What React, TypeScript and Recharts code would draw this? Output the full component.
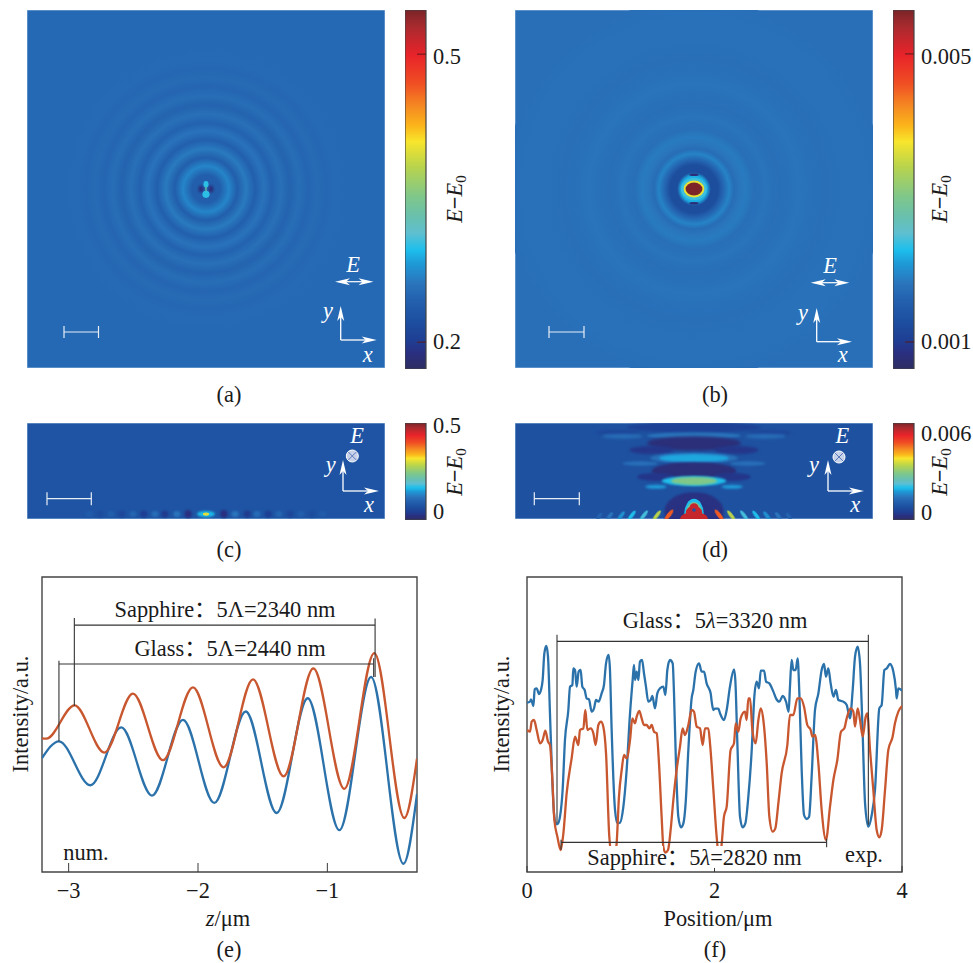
import React from 'react';
import {
  Bar, BarChart, ComposedChart, Line, ReferenceArea, ReferenceLine, Scatter, ScatterChart, XAxis, YAxis,
} from 'recharts';

const SERIF = '"Liberation Serif", "Noto Sans CJK SC", serif';

// Colormap of the colour bars: position 0..1 along the bar and its colour
const cmapPos = [0, 0.044, 0.081, 0.137, 0.193, 0.239, 0.295, 0.332, 0.378, 0.425, 0.48, 0.564, 0.634, 0.676, 0.731, 0.796, 0.875, 0.954, 1];
const cmapHex = ['#2e2e62', '#2a2f80', '#1e3f94', '#1d50a0', '#2361ae', '#2a75bc', '#1e9bd8', '#1dbfec', '#5fbfd0', '#68c0ad', '#7fc78a', '#b9d44c', '#f8e52c', '#fbb61a', '#f58a22', '#f04e23', '#e8232a', '#a82a2e', '#7a2428'];

// Panel (a): radial profile of E-E0
const ringRadiusA = [0, 0.39, 0.64, 0.87, 1.12, 1.37, 1.62, 1.84, 2.09, 2.35, 2.6, 2.85, 3.1, 3.35, 3.6, 4.05];
const ringLevelA = [0.242, 0.24, 0.27, 0.24, 0.264, 0.242, 0.26, 0.245, 0.257, 0.246, 0.255, 0.248, 0.253, 0.249, 0.251, 0.25];
// [x, y, rx, ry, level, tilt, blur]
const blobsA = [
  [-0.14, 0, 0.07, 0.1, 0.185, 0, 0.8], [0.14, 0, 0.07, 0.1, 0.185, 0, 0.8],
  [0, 0.13, 0.07, 0.09, 0.3, 0, 0.7], [0, -0.15, 0.1, 0.1, 0.3, 0, 0.7], [0, 0, 0.02, 0.08, 0.335, 0, 0.3],
];

// Panel (b)
const ringRadiusB = [0, 0.36, 0.47, 0.67, 0.81, 0.98, 1.12, 1.26, 1.45, 1.68, 2.01, 2.37, 2.93, 3.63, 4.47, 5.3];
const ringLevelB = [0.0023, 0.0022, 0.00127, 0.00127, 0.00162, 0.00192, 0.00172, 0.00182, 0.00186, 0.00175, 0.0018, 0.00175, 0.0018, 0.00175, 0.00178, 0.00175];
const blobsB = [
  [0, 0.4, 0.13, 0.035, 0.0008, 0, 0.6], [0, -0.4, 0.13, 0.035, 0.0008, 0, 0.6],
  [0, 0, 0.36, 0.31, 0.0024, 0, 0.5], [0, 0, 0.29, 0.235, 0.0037, 0, 0.4], [0, 0, 0.235, 0.18, 0.0056, 0, 0.3],
];

// Panel (c): bright spot and interference spots along the interface
const blobsC = [
  [-0.4, 0.11, 0.08, 0.09, -0.02, 0, 1], [0.4, 0.11, 0.08, 0.09, -0.02, 0, 1],
  [-0.65, 0.11, 0.08, 0.07, 0.09, 0, 1], [0.65, 0.11, 0.08, 0.07, 0.09, 0, 1],
  [-0.92, 0.11, 0.08, 0.08, -0.005, 0, 1], [0.92, 0.11, 0.08, 0.08, -0.005, 0, 1],
  [-1.14, 0.11, 0.08, 0.07, 0.08, 0, 1], [1.14, 0.11, 0.08, 0.07, 0.08, 0, 1],
  [-1.39, 0.11, 0.08, 0.08, 0, 0, 1], [1.39, 0.11, 0.08, 0.08, 0, 0, 1],
  [-1.63, 0.11, 0.08, 0.07, 0.07, 0, 1], [1.63, 0.11, 0.08, 0.07, 0.07, 0, 1],
  [-1.88, 0.11, 0.08, 0.08, 0.015, 0, 1], [1.88, 0.11, 0.08, 0.08, 0.015, 0, 1],
  [-2.12, 0.11, 0.08, 0.07, 0.06, 0, 1], [2.12, 0.11, 0.08, 0.07, 0.06, 0, 1],
  [-2.37, 0.11, 0.08, 0.08, 0.025, 0, 1], [2.37, 0.11, 0.08, 0.08, 0.025, 0, 1],
  [-2.61, 0.11, 0.08, 0.07, 0.055, 0, 1], [2.61, 0.11, 0.08, 0.07, 0.055, 0, 1],
  [0, 0.11, 0.2, 0.07, 0.14, 0, 0.8], [0, 0.11, 0.07, 0.035, 0.3, 0, 0.6],
];

// Panel (d): arcs, dome and tilted stripes
const blobsD = [
  [0, 2.05, 1.5, 0.12, 0.0001, 0, 1.5],
  [-1.7, 1.93, 0.5, 0.06, 0.0002, 0, 1.5], [1.7, 1.93, 0.5, 0.06, 0.0002, 0, 1.5],
  [0, 1.86, 1.05, 0.07, 0.0012, 0, 1.2],
  [-1.2, 1.24, 0.4, 0.05, 0.0011, 0, 1.2], [1.2, 1.24, 0.4, 0.05, 0.0011, 0, 1.2],
  [-1.6, 1.85, 0.45, 0.05, 0.0011, 0, 1.5], [1.6, 1.85, 0.45, 0.05, 0.0011, 0, 1.5],
  [0, 1.69, 1.05, 0.16, -0.0003, 0, 1.5],
  [-0.95, 1.54, 0.5, 0.09, -0.0001, 0, 1.5], [0.95, 1.54, 0.5, 0.09, -0.0001, 0, 1.5],
  [0, 1.36, 0.98, 0.12, 0.0011, 0, 1.2],
  [0, 1.36, 0.78, 0.09, 0.0017, 0, 1],
  [0, 1.07, 0.95, 0.2, -0.0003, 0, 1.2],
  [-0.85, 0.94, 0.42, 0.09, -0.0001, 0, 1.2], [0.85, 0.94, 0.42, 0.09, -0.0001, 0, 1.2],
  [0, 0.85, 0.72, 0.11, 0.0019, 0, 0.9],
  [0, 0.85, 0.52, 0.09, 0.003, 0, 0.9],
  [-0.85, 0.72, 0.24, 0.045, 0.0016, 0, 0.8], [0.85, 0.72, 0.24, 0.045, 0.0016, 0, 0.8],
  [0, 0.18, 0.66, 0.42, -0.0002, 0, 1],
  [0, 0, 0.66, 0.3, -0.0002, 0, 1],
  [0, 0.1, 0.22, 0.35, 0.0019, 0, 0.7],
  [0, 0.08, 0.19, 0.3, 0.0028, 0, 0.5],
  [0, 0, 0.31, 0.16, 0.0062, 0, 0.4], [0, 0.15, 0.18, 0.14, 0.0062, 0, 0.4], [0, 0.26, 0.1, 0.09, 0.0062, 0, 0.4],
  [0, 0.2, 0.04, 0.04, 0.0005, 0, 0.5],
  [-0.56, 0.09, 0.045, 0.15, 0.0052, 38, 0.4], [0.56, 0.09, 0.045, 0.15, 0.0052, -38, 0.4],
  [-0.83, 0.08, 0.04, 0.14, 0.0036, 38, 0.4], [0.83, 0.08, 0.04, 0.14, 0.0036, -38, 0.4],
  [-1.12, 0.08, 0.04, 0.14, 0.0021, 38, 0.4], [1.12, 0.08, 0.04, 0.14, 0.0021, -38, 0.4],
  [-1.39, 0.08, 0.04, 0.13, 0.0019, 38, 0.4], [1.39, 0.08, 0.04, 0.13, 0.0019, -38, 0.4],
  [-1.63, 0.07, 0.04, 0.12, 0.0015, 38, 0.4], [1.63, 0.07, 0.04, 0.12, 0.0015, -38, 0.4],
  [-1.88, 0.07, 0.04, 0.1, 0.0012, 38, 0.4], [1.88, 0.07, 0.04, 0.1, 0.0012, -38, 0.4],
  [-2.12, 0.06, 0.04, 0.09, 0.0009, 38, 0.4], [2.12, 0.06, 0.04, 0.09, 0.0009, -38, 0.4],
];

// Panel (e), numerical curves
const eBlueZ = [-3.206, -3.075, -2.832, -2.593, -2.356, -2.116, -1.874, -1.631, -1.392, -1.152, -0.907, -0.662, -0.412, -0.307];
const eBlueI = [38.6, 44.3, 29.4, 49.0, 25.9, 51.6, 23.4, 54.4, 20.0, 58.9, 14.2, 66.1, 2.8, 26.4];
const eRedZ = [-3.206, -3.173, -2.954, -2.724, -2.503, -2.271, -2.039, -1.802, -1.575, -1.338, -1.108, -0.869, -0.637, -0.405, -0.307];
const eRedI = [45.3, 45.2, 56.5, 40.5, 60.5, 37.9, 62.6, 35.5, 65.3, 32.4, 69.0, 28.2, 74.2, 18.3, 38.4];

// Panel (f), experimental curves
const fBluePos = [0, 0.032, 0.043, 0.06, 0.068, 0.082, 0.103, 0.128, 0.149, 0.167, 0.185, 0.206, 0.224, 0.245, 0.267, 0.288, 0.309, 0.327, 0.352, 0.38, 0.405, 0.441, 0.459, 0.484, 0.494, 0.512, 0.53, 0.551, 0.572, 0.59, 0.615, 0.636, 0.661, 0.69, 0.715, 0.736, 0.764, 0.796, 0.821, 0.843, 0.871, 0.885, 0.903, 0.939, 0.964, 0.992, 1.028, 1.063, 1.099, 1.127, 1.141, 1.152, 1.17, 1.188, 1.205, 1.227, 1.248, 1.269, 1.294, 1.319, 1.337, 1.365, 1.39, 1.419, 1.454, 1.476, 1.497, 1.525, 1.554, 1.568, 1.589, 1.614, 1.643, 1.668, 1.692, 1.721, 1.756, 1.774, 1.799, 1.835, 1.863, 1.888, 1.916, 1.959, 1.97, 1.988, 2.005, 2.041, 2.059, 2.101, 2.13, 2.165, 2.208, 2.222, 2.244, 2.272, 2.3, 2.329, 2.361, 2.397, 2.425, 2.45, 2.475, 2.493, 2.529, 2.55, 2.585, 2.628, 2.656, 2.692, 2.727, 2.763, 2.791, 2.805, 2.823, 2.841, 2.866, 2.887, 2.905, 2.93, 2.955, 2.984, 3.009, 3.036, 3.072, 3.108, 3.143, 3.168, 3.189, 3.214, 3.239, 3.268, 3.296, 3.321, 3.374, 3.41, 3.445, 3.474, 3.499, 3.527, 3.552, 3.577, 3.606, 3.641, 3.677, 3.712, 3.758, 3.783, 3.812, 3.837, 3.872, 3.908, 3.936, 3.943, 3.961, 4];
const fBlueI = [508, 511, 518, 504, 498, 548, 551, 534, 546, 576, 656, 678, 646, 476, 296, 176, 144, 144, 166, 246, 396, 486, 556, 561, 611, 606, 556, 601, 606, 556, 546, 521, 518, 481, 491, 516, 511, 536, 561, 626, 651, 606, 426, 186, 146, 148, 196, 306, 476, 576, 621, 576, 601, 576, 631, 636, 596, 556, 511, 516, 528, 491, 536, 551, 556, 531, 606, 636, 626, 536, 326, 166, 134, 146, 206, 366, 521, 546, 601, 626, 601, 601, 566, 536, 511, 486, 490, 490, 476, 456, 486, 556, 608, 576, 386, 166, 134, 146, 226, 366, 526, 571, 551, 604, 604, 571, 566, 541, 521, 511, 528, 511, 481, 556, 636, 606, 606, 641, 536, 306, 171, 159, 166, 286, 486, 536, 606, 624, 586, 611, 566, 526, 546, 516, 511, 501, 461, 546, 646, 676, 626, 446, 206, 136, 171, 246, 491, 501, 606, 611, 624, 601, 546, 521, 551, 544];
const fRedPos = [0, 0.032, 0.05, 0.075, 0.103, 0.139, 0.167, 0.196, 0.224, 0.245, 0.267, 0.292, 0.324, 0.359, 0.388, 0.423, 0.476, 0.512, 0.548, 0.565, 0.601, 0.622, 0.644, 0.679, 0.708, 0.732, 0.761, 0.789, 0.814, 0.843, 0.878, 0.921, 0.956, 0.981, 1.01, 1.035, 1.063, 1.099, 1.124, 1.152, 1.17, 1.198, 1.223, 1.248, 1.276, 1.305, 1.33, 1.355, 1.383, 1.408, 1.436, 1.454, 1.476, 1.504, 1.532, 1.561, 1.596, 1.632, 1.66, 1.685, 1.721, 1.756, 1.781, 1.81, 1.845, 1.874, 1.899, 1.934, 1.952, 1.988, 2.023, 2.052, 2.077, 2.101, 2.13, 2.172, 2.208, 2.226, 2.254, 2.279, 2.325, 2.343, 2.361, 2.379, 2.404, 2.439, 2.468, 2.493, 2.521, 2.557, 2.585, 2.62, 2.649, 2.681, 2.716, 2.777, 2.805, 2.841, 2.884, 2.919, 2.955, 2.99, 3.026, 3.044, 3.072, 3.108, 3.143, 3.189, 3.232, 3.268, 3.31, 3.349, 3.385, 3.41, 3.452, 3.481, 3.499, 3.527, 3.552, 3.581, 3.613, 3.63, 3.659, 3.694, 3.73, 3.758, 3.783, 3.819, 3.854, 3.9, 3.925, 3.961, 4];
const fRedI = [426, 421, 451, 456, 426, 386, 396, 424, 391, 381, 296, 156, 106, 66, 116, 236, 341, 406, 381, 426, 431, 486, 426, 431, 416, 381, 441, 451, 436, 356, 106, 26, 86, 226, 306, 351, 341, 396, 461, 446, 466, 483, 461, 441, 441, 431, 441, 421, 416, 326, 166, 76, 58, 66, 126, 216, 306, 376, 431, 411, 441, 486, 481, 436, 431, 381, 431, 431, 386, 246, 106, 36, 86, 166, 196, 366, 386, 446, 421, 461, 481, 456, 521, 521, 426, 386, 456, 491, 456, 326, 166, 121, 131, 206, 296, 381, 471, 471, 521, 521, 496, 441, 426, 406, 411, 326, 186, 96, 196, 276, 336, 421, 431, 461, 491, 481, 436, 491, 456, 406, 466, 476, 366, 246, 126, 104, 126, 246, 366, 406, 446, 481, 498];

const eXTicks = [-3, -2, -1];
const fXTicks = [0, 2, 4];

const zip = (xs: number[], ys: number[]) => xs.map((x, i) => ({ x, y: ys[i] }));
const BLUE = '#2b72ab';
const RED = '#c8572f';
const INK = '#3a3a3a';
const FS = 22.4;

function hexToRgb(h: string) {
  return [parseInt(h.slice(1, 3), 16), parseInt(h.slice(3, 5), 16), parseInt(h.slice(5, 7), 16)];
}
function cmap(t: number) {
  const v = Math.max(0, Math.min(1, t));
  let i = 0;
  while (i < cmapPos.length - 2 && v > cmapPos[i + 1]) i++;
  const f = (v - cmapPos[i]) / (cmapPos[i + 1] - cmapPos[i]);
  const a = hexToRgb(cmapHex[i]);
  const b = hexToRgb(cmapHex[i + 1]);
  return `rgb(${a.map((c, k) => Math.round(c + (b[k] - c) * f)).join(',')})`;
}

type HeatProps = {
  id: string; left: number; top: number; width: number; height: number;
  xDomain: [number, number]; yDomain: [number, number]; range: [number, number];
  base: number; ringRadius?: number[]; ringLevel?: number[]; blobs: number[][];
};

function Heatmap({ id, left, top, width, height, xDomain, yDomain, range, base, ringRadius, ringLevel, blobs }: HeatProps) {
  const k = width / (xDomain[1] - xDomain[0]);
  const col = (v: number) => cmap((v - range[0]) / (range[1] - range[0]));
  const outer = ringRadius ? ringRadius[ringRadius.length - 1] : 0;
  const rows = blobs.map(([x, y, rx, ry, level, tilt, blur]) => ({ x, y, rx, ry, level, tilt, blur }));
  const blobShape = (p: any) => {
    const d = p.payload ?? p;
    return (
      <ellipse cx={p.cx} cy={p.cy} rx={d.rx * k} ry={d.ry * k} fill={col(d.level)}
        transform={d.tilt ? `rotate(${d.tilt} ${p.cx} ${p.cy})` : undefined}
        style={{ filter: `blur(${d.blur}px)` }} />
    );
  };
  const ringShape = (p: any) => <circle cx={p.cx} cy={p.cy} r={outer * k} fill={`url(#${id}-rings)`} />;
  return (
    <div style={{ position: 'absolute', left, top, width, height }}>
      <ScatterChart width={width} height={height} margin={{ top: 0, right: 0, bottom: 0, left: 0 }}>
        <defs>
          {ringRadius && ringLevel && (
            <radialGradient id={`${id}-rings`}>
              {ringRadius.map((r, i) => <stop key={i} offset={r / outer} stopColor={col(ringLevel[i])} />)}
            </radialGradient>
          )}
        </defs>
        <XAxis type="number" dataKey="x" domain={xDomain} hide allowDataOverflow />
        <YAxis type="number" dataKey="y" domain={yDomain} hide allowDataOverflow />
        <ReferenceArea x1={xDomain[0]} x2={xDomain[1]} y1={yDomain[0]} y2={yDomain[1]} fill={col(base)} fillOpacity={1} stroke="#8fb4dc" strokeWidth={1} />
        {ringRadius && <Scatter data={[{ x: 0, y: 0 }]} shape={ringShape} isAnimationActive={false} />}
        <Scatter data={rows} shape={blobShape} isAnimationActive={false} />
      </ScatterChart>
    </div>
  );
}

type BarProps = { id: string; left: number; top: number; height: number; domain: [number, number]; ticks: number[]; labels: string[]; marks: boolean };

const BAR_PAD = 12;

function ColorBar({ id, left, top, height, domain, ticks, labels, marks }: BarProps) {
  const stops = cmapPos.map((p, i) => ({ p, c: cmapHex[i] }));
  const tick = (p: any) => {
    const i = ticks.indexOf(p.payload.value);
    const nudge = marks && i === 1 ? 3 : 0;
    return (
      <g>
        {marks && <line x1={p.x - 9} x2={p.x} y1={p.y} y2={p.y} stroke="#5a1a1a" strokeWidth={1} />}
        <text x={p.x + 7} y={p.y + 7 + nudge} fontFamily={SERIF} fontSize={FS} fill="#1a1a1a">{labels[i]}</text>
      </g>
    );
  };
  const h = height + BAR_PAD * 2;
  return (
    <div style={{ position: 'absolute', left, top: top - BAR_PAD, width: 80, height: h }}>
      <BarChart width={80} height={h} data={[{ c: 'E', range: domain }]} margin={{ top: BAR_PAD, right: 0, bottom: BAR_PAD, left: 0 }} barCategoryGap={0}>
        <defs>
          <linearGradient id={`${id}-cb`} x1="0" y1="1" x2="0" y2="0">
            {stops.map((s, i) => <stop key={i} offset={s.p} stopColor={s.c} />)}
          </linearGradient>
        </defs>
        <XAxis dataKey="c" hide />
        <YAxis orientation="right" type="number" domain={domain} ticks={ticks} width={59} axisLine={false} tickLine={false} tickSize={0} tickMargin={0} tick={tick} interval={0} allowDataOverflow />
        <Bar dataKey="range" fill={`url(#${id}-cb)`} stroke="#444" strokeWidth={1.2} isAnimationActive={false} />
      </BarChart>
    </div>
  );
}

const bracket = (x1: number, y1: number, x2: number, y2: number) => (
  <ReferenceLine segment={[{ x: x1, y: y1 }, { x: x2, y: y2 }]} stroke="#333" strokeWidth={1.1} ifOverflow="visible" />
);

function xTick(fmt: (v: number) => string, len: number) {
  return (p: any) => (
    <g>
      <line x1={p.x} x2={p.x} y1={p.y} y2={p.y - len} stroke={INK} strokeWidth={1} />
      <text x={p.x} y={p.y + 26} textAnchor="middle" fontFamily={SERIF} fontSize={FS} fill="#1a1a1a">{fmt(p.payload.value)}</text>
    </g>
  );
}

function PanelE() {
  const xD: [number, number] = [-3.206, -0.307];
  return (
    <div style={{ position: 'absolute', left: 0, top: 565 }}>
      <ComposedChart width={440} height={398} margin={{ top: 12, right: 23, bottom: 0, left: 42 }}>
        <XAxis type="number" dataKey="x" domain={xD} ticks={eXTicks} height={91} axisLine={false} tickLine={false} tickSize={0} tickMargin={0}
          tick={xTick((v) => `−${Math.abs(v)}`, 9)} interval={0} allowDataOverflow />
        <YAxis type="number" domain={[0, 100]} hide allowDataOverflow />
        <Line data={zip(eBlueZ, eBlueI)} dataKey="y" type="monotone" dot={false} stroke={BLUE} strokeWidth={2.3} isAnimationActive={false} />
        <Line data={zip(eRedZ, eRedI)} dataKey="y" type="monotone" dot={false} stroke={RED} strokeWidth={2.3} isAnimationActive={false} />
        {bracket(-2.956, 83.7, -0.631, 83.7)}
        {bracket(-2.956, 86.1, -2.956, 56.3)}
        {bracket(-0.631, 85.9, -0.631, 66.1)}
        {bracket(-3.075, 70.5, -0.642, 70.5)}
        {bracket(-3.075, 71.6, -3.075, 44.3)}
        {bracket(-0.642, 72.5, -0.642, 66.1)}
        <ReferenceArea x1={xD[0]} x2={xD[1]} y1={0} y2={100} fill="none" stroke="#444" strokeWidth={1.4} />
      </ComposedChart>
    </div>
  );
}

function PanelF() {
  return (
    <div style={{ position: 'absolute', left: 485, top: 565 }}>
      <ComposedChart width={440} height={398} margin={{ top: 12, right: 23, bottom: 0, left: 42 }}>
        <XAxis type="number" dataKey="x" domain={[0, 4]} ticks={fXTicks} height={91} axisLine={false} tickLine={false} tickSize={0} tickMargin={0}
          tick={xTick((v) => `${v}`, 6)} interval={0} allowDataOverflow />
        <YAxis type="number" domain={[0, 885]} hide allowDataOverflow />
        <Line data={zip(fBluePos, fBlueI)} dataKey="y" type="monotone" dot={false} stroke={BLUE} strokeWidth={2.3} isAnimationActive={false} />
        <Line data={zip(fRedPos, fRedI)} dataKey="y" type="monotone" dot={false} stroke={RED} strokeWidth={2.3} isAnimationActive={false} />
        {bracket(0.32, 692, 3.641, 692)}
        {bracket(0.32, 712, 0.32, 147)}
        {bracket(3.641, 712, 3.641, 142)}
        {bracket(0.363, 89, 3.196, 89)}
        {bracket(0.363, 97, 0.363, 67)}
        {bracket(3.196, 100, 3.196, 74)}
        <ReferenceArea x1={0} x2={4} y1={0} y2={885} fill="none" stroke="#444" strokeWidth={1.4} />
      </ComposedChart>
    </div>
  );
}

function ArrowHead({ x, y, dir }: { x: number; y: number; dir: 'r' | 'l' | 'u' }) {
  const pts = dir === 'r' ? `${x},${y} ${x - 15},${y - 3.5} ${x - 11},${y} ${x - 15},${y + 3.5}`
    : dir === 'l' ? `${x},${y} ${x + 15},${y - 3.5} ${x + 11},${y} ${x + 15},${y + 3.5}`
      : `${x},${y} ${x - 3.5},${y + 15} ${x},${y + 11} ${x + 3.5},${y + 15}`;
  return <polygon points={pts} fill="#fff" />;
}

function Txt({ x, y, s, size = FS, anchor = 'middle', italic = false, fill = '#1a1a1a' }: any) {
  return <text x={x} y={y} textAnchor={anchor} fontFamily={SERIF} fontSize={size} fontStyle={italic ? 'italic' : 'normal'} fill={fill}>{s}</text>;
}

function EE0({ x, y }: { x: number; y: number }) {
  return (
    <text transform={`rotate(-90 ${x} ${y})`} x={x} y={y} textAnchor="middle" fontFamily={SERIF} fontSize={FS} fill="#1a1a1a">
      <tspan fontStyle="italic">E</tspan><tspan fontWeight="bold">−</tspan><tspan fontStyle="italic">E</tspan><tspan fontSize={15} dy={4}>0</tspan>
    </text>
  );
}

function Axes({ ox, oy, top, right }: { ox: number; oy: number; top: number; right: number }) {
  return (
    <g>
      <line x1={ox} x2={ox} y1={oy} y2={top + 8} stroke="#fff" strokeWidth={1.3} />
      <line x1={ox} x2={right - 8} y1={oy} y2={oy} stroke="#fff" strokeWidth={1.3} />
      <ArrowHead x={ox} y={top} dir="u" />
      <ArrowHead x={right} y={oy} dir="r" />
    </g>
  );
}

function ScaleBar({ x1, x2, y, cap }: { x1: number; x2: number; y: number; cap: number }) {
  return (
    <g stroke="#e8eef6" strokeWidth={1.2}>
      <line x1={x1} x2={x2} y1={y} y2={y} />
      <line x1={x1} x2={x1} y1={y - cap} y2={y + cap} />
      <line x1={x2} x2={x2} y1={y - cap} y2={y + cap} />
    </g>
  );
}

function OutPlane({ x, y }: { x: number; y: number }) {
  return (
    <g>
      <circle cx={x} cy={y} r={6} fill="#c6d2ea" stroke="#fff" strokeWidth={1} />
      <line x1={x - 4} x2={x + 4} y1={y - 4} y2={y + 4} stroke="#5a78b8" strokeWidth={1} />
      <line x1={x - 4} x2={x + 4} y1={y + 4} y2={y - 4} stroke="#5a78b8" strokeWidth={1} />
    </g>
  );
}

function Overlay() {
  return (
    <svg width={973} height={963} style={{ position: 'absolute', left: 0, top: 0, pointerEvents: 'none' }}>
      {/* panel a */}
      <ScaleBar x1={64} x2={98.5} y={332} cap={6} />
      <Txt x={353} y={272} s="E" italic fill="#fff" />
      <line x1={345} x2={363} y1={281.7} y2={281.7} stroke="#fff" strokeWidth={1.2} />
      <ArrowHead x={335} y={281.7} dir="l" /><ArrowHead x={373.5} y={281.7} dir="r" />
      <Axes ox={340.7} oy={340} top={306} right={376.7} />
      <Txt x={328} y={318} s="y" italic fill="#fff" />
      <Txt x={367.7} y={361.5} s="x" italic fill="#fff" />
      <EE0 x={462} y={199} />
      <Txt x={229} y={402} s="(a)" />
      {/* panel b */}
      <ScaleBar x1={549} x2={584} y={332} cap={6} />
      <Txt x={830} y={273} s="E" italic fill="#fff" />
      <line x1={821} x2={839} y1={282.7} y2={282.7} stroke="#fff" strokeWidth={1.2} />
      <ArrowHead x={810.7} y={282.7} dir="l" /><ArrowHead x={849.3} y={282.7} dir="r" />
      <Axes ox={816.7} oy={341.7} top={308} right={852} />
      <Txt x={803} y={320} s="y" italic fill="#fff" />
      <Txt x={842.7} y={362} s="x" italic fill="#fff" />
      <EE0 x={947} y={199} />
      <Txt x={715} y={402} s="(b)" />
      {/* panel c */}
      <ScaleBar x1={47} x2={91.3} y={498.7} cap={6.5} />
      <Txt x={357} y={442.7} s="E" italic fill="#fff" />
      <OutPlane x={352.3} y={456} />
      <Axes ox={343} oy={491} top={460} right={379} />
      <Txt x={330.7} y={471.7} s="y" italic fill="#fff" />
      <Txt x={369} y={511.7} s="x" italic fill="#fff" />
      <EE0 x={462} y={472} />
      <Txt x={229} y={557} s="(c)" />
      {/* panel d */}
      <ScaleBar x1={534.3} x2={579.3} y={498.7} cap={6.5} />
      <Txt x={842.3} y={442.7} s="E" italic fill="#fff" />
      <OutPlane x={839} y={457} />
      <Axes ox={828} oy={491} top={460} right={864} />
      <Txt x={814} y={471.7} s="y" italic fill="#fff" />
      <Txt x={855.3} y={511.7} s="x" italic fill="#fff" />
      <EE0 x={947} y={472} />
      <Txt x={715} y={557} s="(d)" />
      {/* panel e */}
      <Txt x={225} y={617} s="Sapphire：5Λ=2340 nm" />
      <Txt x={230} y={656} s="Glass：5Λ=2440 nm" />
      <Txt x={86} y={860} s="num." />
      <text transform="rotate(-90 28 714)" x={28} y={714} textAnchor="middle" fontFamily={SERIF} fontSize={FS} fill="#1a1a1a">Intensity/a.u.</text>
      <text x={228} y={926} textAnchor="middle" fontFamily={SERIF} fontSize={FS} fill="#1a1a1a"><tspan fontStyle="italic">z</tspan>/μm</text>
      <Txt x={229} y={957} s="(e)" />
      {/* panel f: white backing of the lower label, which hides the curve troughs in the reference */}
      <rect x={585} y={846} width={78} height={22} fill="#fff" />
      <rect x={688} y={846} width={116} height={22} fill="#fff" />
      <text x={715} y={628} textAnchor="middle" fontFamily={SERIF} fontSize={FS} fill="#1a1a1a">Glass：5<tspan fontStyle="italic">λ</tspan>=3320 nm</text>
      <text x={694.5} y={865} textAnchor="middle" fontFamily={SERIF} fontSize={FS} fill="#1a1a1a">Sapphire：5<tspan fontStyle="italic">λ</tspan>=2820 nm</text>
      <Txt x={864} y={862} s="exp." />
      <text transform="rotate(-90 509 714)" x={509} y={714} textAnchor="middle" fontFamily={SERIF} fontSize={FS} fill="#1a1a1a">Intensity/a.u.</text>
      <Txt x={718} y={926} s="Position/μm" />
      <Txt x={715} y={957} s="(f)" />
    </svg>
  );
}

export default function App() {
  return (
    <div style={{ position: 'absolute', left: 0, top: 0, width: 973, height: 963, background: '#fff', overflow: 'hidden' }}>
      <Heatmap id="a" left={27} top={10} width={358} height={358} xDomain={[-5, 5]} yDomain={[-5, 5]} range={[0.172, 0.546]} base={0.25} ringRadius={ringRadiusA} ringLevel={ringLevelA} blobs={blobsA} />
      <ColorBar id="a" left={405} top={10} height={359} domain={[0.172, 0.546]} ticks={[0.2, 0.5]} labels={['0.2', '0.5']} marks />
      <Heatmap id="b" left={515} top={10} width={358} height={358} xDomain={[-5, 5]} yDomain={[-5, 5]} range={[0.000625, 0.00561]} base={0.00175} ringRadius={ringRadiusB} ringLevel={ringLevelB} blobs={blobsB} />
      <ColorBar id="b" left={893} top={10} height={359} domain={[0.000625, 0.00561]} ticks={[0.001, 0.005]} labels={['0.001', '0.005']} marks />
      <Heatmap id="c" left={27} top={423} width={358} height={96} xDomain={[-4, 4]} yDomain={[0, 2.145]} range={[-0.045, 0.52]} base={0.04} blobs={blobsC} />
      <ColorBar id="c" left={405} top={423} height={97} domain={[-0.047, 0.52]} ticks={[0, 0.5]} labels={['0', '0.5']} marks={false} />
      <Heatmap id="d" left={515} top={423} width={358} height={96} xDomain={[-4, 4]} yDomain={[0, 2.145]} range={[-0.00055, 0.0068]} base={0.0005} blobs={blobsD} />
      <ColorBar id="d" left={893} top={423} height={97} domain={[-0.00055, 0.0068]} ticks={[0, 0.006]} labels={['0', '0.006']} marks={false} />
      <PanelE />
      <PanelF />
      <Overlay />
    </div>
  );
}
